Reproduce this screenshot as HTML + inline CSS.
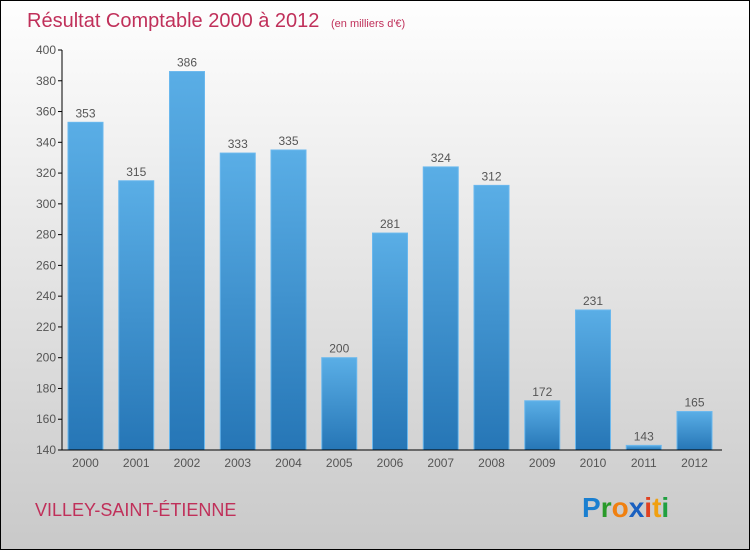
<!DOCTYPE html>
<html><head><meta charset="utf-8"><style>
html,body{margin:0;padding:0}
body{width:750px;height:550px;overflow:hidden;font-family:"Liberation Sans",sans-serif}
#wrap{position:absolute;left:0;top:0;width:748px;height:548px;border:1px solid #000;background:linear-gradient(#fefefe,#f4f4f4 20%,#c9c9c9)}
</style></head><body>
<div id="wrap">
<svg width="750" height="550" style="position:absolute;left:-1px;top:-1px">
<defs><linearGradient id="bg" x1="0" y1="0" x2="0" y2="1"><stop offset="0" stop-color="#5aaee6"/><stop offset="1" stop-color="#2676b6"/></linearGradient></defs>
<text x="27" y="27" font-size="20" fill="#c0305a">Résultat Comptable 2000 à 2012 <tspan font-size="11" dx="6">(en milliers d'€)</tspan></text>
<g id="plot"></g>
<text x="35" y="516" font-size="18" fill="#c0305a">VILLEY-SAINT-ÉTIENNE</text>
<text x="582" y="517" font-size="28" font-weight="bold"><tspan fill="#1a7fd0">P</tspan><tspan fill="#2a9a2a">r</tspan><tspan fill="#f08010">o</tspan><tspan fill="#1a60c0">x</tspan><tspan fill="#e04020">i</tspan><tspan fill="#f0a010">t</tspan><tspan fill="#20a040">i</tspan></text>
</svg></div>
<script>
const categories=["2000","2001","2002","2003","2004","2005","2006","2007","2008","2009","2010","2011","2012"];
const values=[353,315,386,333,335,200,281,324,312,172,231,143,165];
const ticks=[140,160,180,200,220,240,260,280,300,320,340,360,380,400];
const NS="http://www.w3.org/2000/svg";
const g=document.getElementById('plot');
const y=v=>450-(v-140)*400/260;
const x=i=>68+i*50.75;
function el(t,a,txt){const e=document.createElementNS(NS,t);for(const k in a)e.setAttribute(k,a[k]);if(txt!==undefined)e.textContent=txt;g.appendChild(e);return e;}
ticks.forEach(t=>{
 const l=el('line',{x1:58,x2:62,y1:y(t),y2:y(t),stroke:'#000'});
 
 
 const tx=el('text',{x:56,y:y(t)+4,'font-size':12,fill:'#555','text-anchor':'end'},t);
 
 
});
values.forEach((v,i)=>{
 const r=el('rect',{x:x(i),y:y(v),width:35,height:450-y(v),fill:'url(#bg)',stroke:'#6ab8ee','stroke-width':1});
 
 
 const vt=el('text',{x:x(i)+17.5,y:y(v)-5,'font-size':12,fill:'#555','text-anchor':'middle'},v);
 
 
 const ct=el('text',{x:x(i)+17.5,y:467,'font-size':12,fill:'#555','text-anchor':'middle'},categories[i]);
 
 
});
const ya=el('line',{x1:62,x2:62,y1:50,y2:450,stroke:'#000'});


const xa=el('line',{x1:62,x2:722,y1:450,y2:450,stroke:'#000'});


</script>
</body></html>
